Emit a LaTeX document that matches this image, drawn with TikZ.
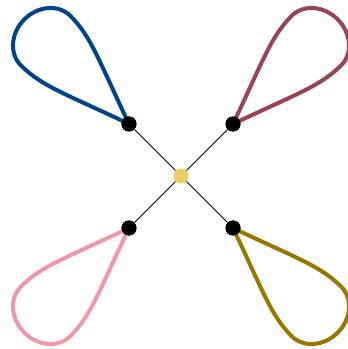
\documentclass[tikz,border=0pt]{standalone}
\usepackage{tikz}

\definecolor{tolblue}{HTML}{004488}
\definecolor{tolwine}{HTML}{994455}
\definecolor{tolpink}{HTML}{EE99AA}
\definecolor{tololive}{HTML}{997700}
\definecolor{tolyellow}{HTML}{EECC66}

\begin{document}
\begin{tikzpicture}[dot/.style={circle, fill=black, inner sep=0pt, minimum size=0.375cm}, loopline/.style={line width=0.1cm, line join=round}]
        \useasboundingbox (-4.525,-4.325) rectangle (4.15,4.4);

        \node[dot, fill=tolyellow] (c) at (0,0) {};
        \node[dot] (tl) at (-1.3, 1.3) {};
        \node[dot] (tr) at (1.3, 1.3) {};
        \node[dot] (bl) at (-1.3, -1.3) {};
        \node[dot] (br) at (1.3, -1.3) {};

        \draw[line width=0.6pt] (c) -- (tl);
        \draw[line width=0.6pt] (c) -- (tr);
        \draw[line width=0.6pt] (c) -- (bl);
        \draw[line width=0.6pt] (c) -- (br);

        % teardrop loops, drawn along each diagonal
        \draw[loopline, tolblue, shift={(tl)}, rotate=135] (tl.center) .. controls (19.5:1.75) and (2.2,0.875) .. (2.95,0.875) .. controls (3.365,0.875) and (3.7,0.48) .. (3.7,0) .. controls (3.7,-0.48) and (3.365,-0.875) .. (2.95,-0.875) .. controls (2.2,-0.875) and (-19.5:1.75) .. (tl.center);
        \draw[loopline, tolwine, shift={(tr)}, rotate=45] (tr.center) .. controls (19.5:1.75) and (2.2,0.875) .. (2.95,0.875) .. controls (3.365,0.875) and (3.7,0.48) .. (3.7,0) .. controls (3.7,-0.48) and (3.365,-0.875) .. (2.95,-0.875) .. controls (2.2,-0.875) and (-19.5:1.75) .. (tr.center);
        \draw[loopline, tolpink, shift={(bl)}, rotate=225] (bl.center) .. controls (19.5:1.75) and (2.2,0.875) .. (2.95,0.875) .. controls (3.365,0.875) and (3.7,0.48) .. (3.7,0) .. controls (3.7,-0.48) and (3.365,-0.875) .. (2.95,-0.875) .. controls (2.2,-0.875) and (-19.5:1.75) .. (bl.center);
        \draw[loopline, tololive, shift={(br)}, rotate=-45] (br.center) .. controls (19.5:1.75) and (2.2,0.875) .. (2.95,0.875) .. controls (3.365,0.875) and (3.7,0.48) .. (3.7,0) .. controls (3.7,-0.48) and (3.365,-0.875) .. (2.95,-0.875) .. controls (2.2,-0.875) and (-19.5:1.75) .. (br.center);

        % dots on top of the loops
        \node[dot] at (tl) {};
        \node[dot] at (tr) {};
        \node[dot] at (bl) {};
        \node[dot] at (br) {};
\end{tikzpicture}
\end{document}
